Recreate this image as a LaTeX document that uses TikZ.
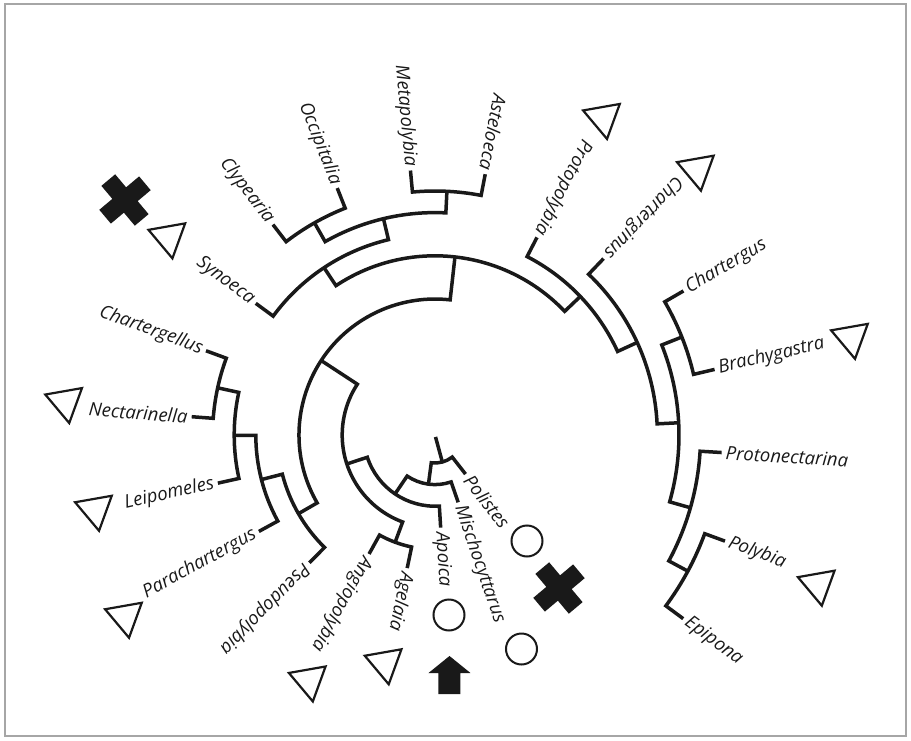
\documentclass[tikz,border=0pt]{standalone}
\usepackage{fontspec}
\setmainfont{Open Sans}
\usetikzlibrary{shapes.geometric}
\newcommand\rad[1]{\fpeval{28+21.6*(#1)}}
\newcommand\clade[7]{%
  \coordinate (#1) at (#7:\rad{#2});
  \draw[tree] (#3:\rad{#4}) -- (#3:\rad{#2}) arc[start angle=#3, end angle=#5, radius=\rad{#2}pt] -- (#5:\rad{#6});
}
\newcommand\outlab[4]{\node[lab, anchor=west, rotate=#2] (#1) at (#2:\fpeval{28+21.6*(#3)+3}) {#4};}
\newcommand\inlab[4]{\node[lab, anchor=east, rotate=#2+180] (#1) at (#2:\fpeval{28+21.6*(#3)+3}) {#4};}
\begin{document}
\begin{tikzpicture}[x=1pt,y=1pt,
  tree/.style={line width=3.5pt, line join=miter, line cap=butt, black!90},
  lab/.style={font=\itshape\fontsize{18.5}{20}\selectfont, inner sep=1pt, text=black!90},
  tri/.style={draw=black!90, line width=2.2pt, regular polygon, regular polygon sides=3, minimum size=43pt, inner sep=0pt, shape border rotate=190},
  ring/.style={draw=black!90, line width=2pt, circle, minimum size=31pt, inner sep=0pt},
  crossmark/.style={fill=black!90}
]
\useasboundingbox (-435,-305) rectangle (476,435);
\draw[gray!70, line width=1.2pt] (-430,-301) rectangle (471,431);

% root stub
\coordinate (root) at (-74.8:2);
\draw[tree] (root) -- (-74.8:28);

% clades: name, level, thA, levelA, thB, levelB, thmid
\clade{R0}{0}{-52}{1}{-97.6}{1}{-74.8}
\clade{R1}{1}{-71}{2}{-124.15}{2}{-97.6}
\clade{R2}{2}{-86.5}{3}{-161.8}{3}{-124.15}
\clade{R3}{3}{-110.4}{4}{-213.2}{5}{-161.8}
\clade{AA}{4}{-119}{5}{-101.8}{5}{-110.4}
\clade{R4}{5}{209.95}{6}{83.6}{7}{146.8}
\clade{L1}{6}{194.4}{7}{225.5}{7}{209.95}
\clade{L2}{7}{180.1}{8}{208.7}{8}{194.4}
\clade{L3}{8}{167.75}{9}{192.5}{9}{180.1}
\clade{CN}{9}{159.8}{10}{175.7}{10}{167.75}
\clade{R5}{7}{123.55}{8}{43.64}{8}{83.6}
\clade{T2}{8}{143.7}{9}{103.4}{9}{123.55}
\clade{T1}{9}{119.6}{10}{87.2}{10}{103.4}
\clade{CO}{10}{127.6}{11}{111.6}{11}{119.6}
\clade{MA}{10}{95.3}{11}{79.1}{11}{87.2}
\clade{N1}{8}{62.7}{9}{24.59}{9}{43.64}
\clade{N2}{9}{46.3}{10}{2.875}{10}{24.59}
\clade{N3}{10}{21.65}{11}{-15.9}{11}{2.875}
\clade{CB}{11}{30.1}{12}{13.2}{12}{21.65}
\clade{N4}{11}{-3.5}{12}{-28.3}{12}{-15.9}
\clade{PE}{12}{-20.1}{13}{-36.5}{13}{-28.3}

% labels
\outlab{Pol}{-52}{1}{Polistes}
\outlab{Mis}{-71}{2}{Mischocyttarus}
\outlab{Apo}{-86.5}{3}{Apoica}
\outlab{Age}{-101.8}{5}{Agelaia}
\outlab{Ang}{-119}{5}{Angiopolybia}
\outlab{Pse}{-134.5}{7}{Pseudopolybia}
\inlab{Par}{-151.3}{8}{Parachartergus}
\inlab{Lei}{-167.5}{9}{Leipomeles}
\inlab{Nec}{175.7}{10}{Nectarinella}
\inlab{Chl}{159.8}{10}{Chartergellus}
\inlab{Syn}{143.7}{9}{Synoeca}
\inlab{Cly}{127.6}{11}{Clypearia}
\inlab{Occ}{111.6}{11}{Occipitalia}
\inlab{Met}{95.3}{11}{Metapolybia}
\inlab{Ast}{79.1}{11}{Asteloeca}
\inlab{Pro}{62.7}{9}{Protopolybia}
\inlab{Chn}{46.3}{10}{Charterginus}
\outlab{Chg}{30.1}{12}{Chartergus}
\outlab{Bra}{13.2}{12}{Brachygastra}
\outlab{Prn}{-3.5}{12}{Protonectarina}
\outlab{Ply}{-20.1}{13}{Polybia}
\outlab{Epi}{-36.5}{13}{Epipona}

% symbols
\node[tri] (triSyn) at (-266.3,197.8) {};
\node[tri] (triPro) at (168.3,317.2) {};
\node[tri] (triChn) at (262.2,265.5) {};
\node[tri] (triBra) at (416.3,97.3) {};
\node[tri] (triPly) at (383.1,-149.5) {};
\node[tri] (triNec) at (-369.5,33.1) {};
\node[tri] (triLei) at (-339.7,-74.6) {};
\node[tri] (triPar) at (-309.7,-181.6) {};
\node[tri] (triAng) at (-125.9,-245.3) {};
\node[tri] (triAge) at (-50,-228.1) {};
\node[ring] (cPol) at (92,-106) {};
\node[ring] (cApo) at (14,-180) {};
\node[ring] (cMis) at (86.5,-214) {};
\fill[crossmark, shift={(-310,235)}, rotate=40] (-9,-26) rectangle (9,26) (-26,-9) rectangle (26,9);
\fill[crossmark, shift={(124,-153)}, rotate=40] (-9,-26) rectangle (9,26) (-26,-9) rectangle (26,9);
\fill[crossmark] (14.5,-221) -- (35.5,-238) -- (25.5,-238) -- (25.5,-259) -- (3.5,-259) -- (3.5,-238) -- (-6.5,-238) -- cycle;
\end{tikzpicture}
\end{document}
